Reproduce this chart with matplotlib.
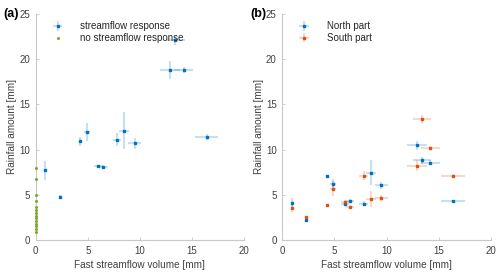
import matplotlib
matplotlib.use("Agg")
import matplotlib.pyplot as plt
import numpy as np

plt.rcParams['font.family'] = ['Liberation Sans', 'DejaVu Sans']

# Panel (a): streamflow response events
fast_flow = [0.9, 2.3, 4.3, 4.9, 6.0, 6.5, 7.8, 8.5, 9.5, 12.9, 13.4, 14.2, 16.4]
fast_flow_err = [0.1, 0.1, 0.15, 0.3, 0.4, 0.4, 0.4, 0.5, 0.6, 0.95, 0.9, 0.9, 1.15]
rain_total = [7.7, 4.8, 10.9, 11.9, 8.2, 8.1, 11.1, 12.1, 10.7, 18.8, 22.1, 18.8, 11.4]
rain_total_err = [1.05, 0.15, 0.5, 1.0, 0.15, 0.15, 0.7, 2.05, 0.6, 0.95, 0.5, 0.3, 0.3]

# no streamflow response events (x = 0)
rain_noresp = [8.0, 6.8, 5.0, 4.3, 3.6, 3.3, 3.0, 2.7, 2.4, 2.1, 1.8, 1.5, 1.2, 0.9]
flow_noresp = [0.0] * len(rain_noresp)

# Panel (b): north / south rainfall
rain_north = [4.06, 2.18, 7.04, 6.2, 3.95, 4.35, 4.02, 7.45, 6.05, 10.5, 8.8, 8.55, 4.28]
rain_north_err = [0.6, 0.15, 0.2, 0.5, 0.2, 0.2, 0.3, 1.35, 0.4, 0.5, 0.4, 0.3, 0.1]
rain_south = [3.58, 2.55, 3.83, 5.68, 4.17, 3.69, 7.11, 4.57, 4.65, 8.22, 13.35, 10.2, 7.11]
rain_south_err = [0.5, 0.15, 0.15, 0.8, 0.2, 0.2, 0.5, 0.9, 0.3, 0.6, 0.5, 0.2, 0.2]

blue = '#0072BD'
orange = '#D95319'
green = '#77AC30'

fig = plt.figure(figsize=(5.0, 2.73), dpi=100)
axa = fig.add_axes([0.0714, 0.1209, 0.4166, 0.8278])
axb = fig.add_axes([0.5646, 0.1209, 0.4168, 0.8278])

def errpts(ax, x, y, xe, ye, color, label):
    c = ax.errorbar(x, y, xerr=xe, yerr=ye, fmt='s', ms=2.0, color=color,
                    mec=color, mfc=color, ecolor=color, elinewidth=1.5,
                    capsize=0, label=label, zorder=3)
    for lc in c[2]:
        lc.set_alpha(0.22)
    return c

ha = errpts(axa, fast_flow, rain_total, fast_flow_err, rain_total_err, blue, 'streamflow response')
hg, = axa.plot(flow_noresp, rain_noresp, 'o', ms=2.2, mew=0, color=green,
               label='no streamflow response', zorder=3, clip_on=False)

hn = errpts(axb, fast_flow, rain_north, fast_flow_err, rain_north_err, blue, 'North part')
hs = errpts(axb, fast_flow, rain_south, fast_flow_err, rain_south_err, orange, 'South part')

handles = {axa: [ha, hg], axb: [hn, hs]}

for ax, lab in [(axa, '(a)'), (axb, '(b)')]:
    ax.set_xlim(0, 20)
    ax.set_ylim(0, 25)
    ax.set_xticks([0, 5, 10, 15, 20])
    ax.set_yticks([0, 5, 10, 15, 20, 25])
    for s in ['top', 'right']:
        ax.spines[s].set_visible(False)
    for s in ['left', 'bottom']:
        ax.spines[s].set_color('#c8c8c8')
        ax.spines[s].set_linewidth(0.8)
    ax.tick_params(direction='in', length=2.5, width=0.6, color='#c8c8c8',
                   labelsize=7, labelcolor='#404040', pad=4)
    ax.set_xlabel('Fast streamflow volume [mm]', fontsize=7.2, color='#404040', labelpad=3)
    ax.set_ylabel('Rainfall amount [mm]', fontsize=7.2, color='#404040', labelpad=1.5)
    ax.text(-0.155, 1.0, lab, transform=ax.transAxes, fontsize=9, fontweight='bold',
            ha='left', va='center')
    hs_ = handles[ax]
    ax.legend(hs_, [h.get_label() for h in hs_], loc='upper left',
              bbox_to_anchor=(0.077, 0.968), borderaxespad=0, borderpad=0,
              frameon=False, fontsize=7, handlelength=1.2, handletextpad=1.75,
              labelspacing=0.18, labelcolor='#262626')

fig.savefig('out.png', dpi=100)
